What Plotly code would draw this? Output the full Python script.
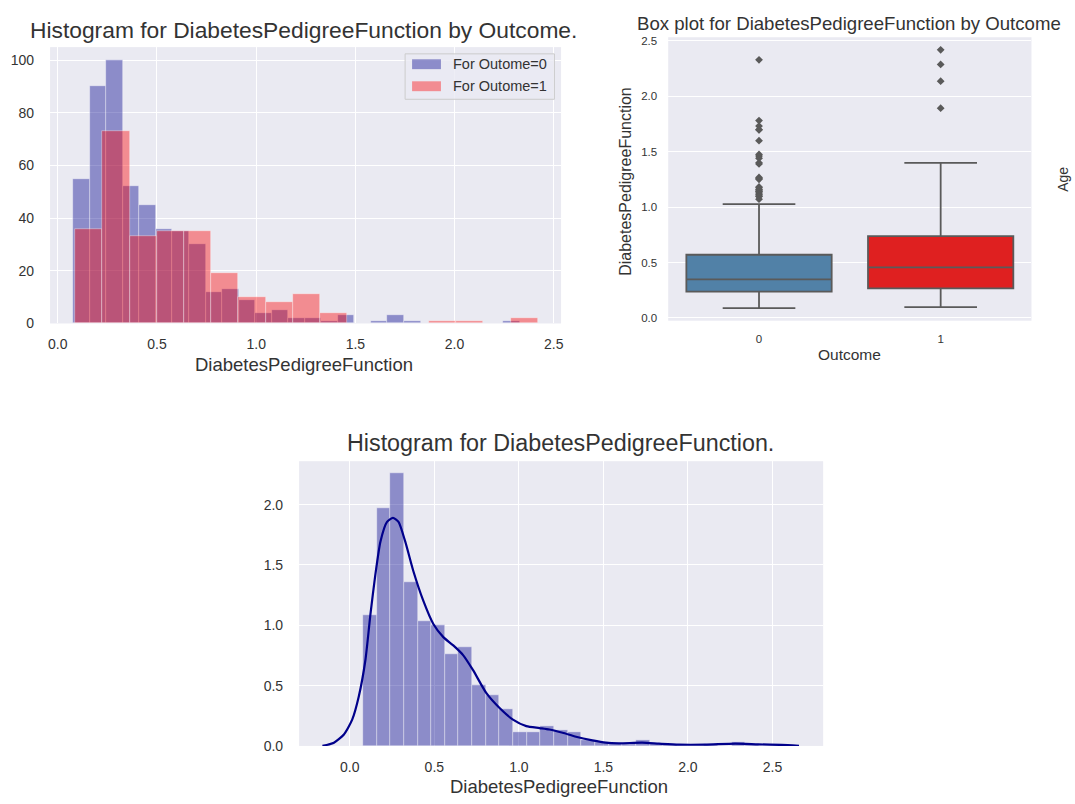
import numpy as np
import plotly.graph_objects as go

# ---------------- data ----------------
# Histogram by outcome (counts per bin)
outcome0_range = [0.078, 2.329]
outcome0_counts = [55, 90, 100, 52, 45, 36, 35, 30, 12, 13, 9, 4, 5, 2, 2, 1, 3, 0, 1, 3, 1, 0, 0, 0, 0, 0, 1]
outcome1_range = [0.088, 2.42]
outcome1_counts = [36, 73, 33, 35, 35, 19, 10, 8, 11, 4, 0, 0, 0, 1, 1, 0, 2]
legend_labels = ["For Outome=0", "For Outome=1"]

# Box plot statistics by outcome
box_categories = ["0", "1"]
box_q1 = [0.237, 0.267]
box_median = [0.347, 0.457]
box_q3 = [0.570, 0.739]
box_lower = [0.089, 0.098]
box_upper = [1.027, 1.400]
outliers_0 = [2.329, 1.781, 1.731, 1.699, 1.698, 1.600, 1.476, 1.461, 1.441, 1.400, 1.390,
              1.268, 1.258, 1.251, 1.182, 1.174, 1.159, 1.154, 1.144, 1.138, 1.127, 1.114,
              1.101, 1.096, 1.072]
outliers_1 = [2.420, 2.288, 2.137, 1.893]

# Overall histogram (counts) + KDE
all_range = [0.078, 2.42]
all_counts = [67, 122, 140, 84, 64, 62, 47, 51, 31, 26, 19, 7, 7, 10, 8, 7, 3, 2, 1, 1, 3, 1, 1,
              0, 0, 1, 0, 2, 1]
kde_x = [-0.162, -0.094, -0.035, 0.014, 0.053, 0.092, 0.122, 0.151, 0.181, 0.22, 0.255, 0.288,
         0.328, 0.376, 0.435, 0.494, 0.553, 0.612, 0.671, 0.729, 0.808, 0.886, 0.965, 1.044,
         1.122, 1.18, 1.259, 1.338, 1.435, 1.514, 1.592, 1.729, 1.828, 1.945, 2.102, 2.279,
         2.416, 2.553, 2.657]
kde_y = [0.0, 0.027, 0.095, 0.218, 0.41, 0.71, 1.093, 1.42, 1.693, 1.857, 1.89, 1.857, 1.693,
         1.448, 1.202, 1.011, 0.902, 0.833, 0.751, 0.628, 0.437, 0.314, 0.218, 0.164, 0.148,
         0.136, 0.109, 0.076, 0.046, 0.027, 0.022, 0.027, 0.019, 0.011, 0.011, 0.019, 0.013,
         0.008, 0.0]

# ---------------- helpers ----------------
W, H = 1075, 804
FONT = "Liberation Sans, Arial, sans-serif"
TXT = "#333333"
BG = "#EAEAF2"


def px(x):
    return x / W


def py(y):
    return 1 - y / H


def bins(rng, counts):
    edges = np.linspace(rng[0], rng[1], len(counts) + 1)
    centers = (edges[:-1] + edges[1:]) / 2
    size = edges[1] - edges[0]
    return centers, size


fig = go.Figure()

# ---- top-left: histogram by outcome ----
c0, s0 = bins(outcome0_range, outcome0_counts)
c1, s1 = bins(outcome1_range, outcome1_counts)
fig.add_trace(go.Histogram(x=c0, y=outcome0_counts, histfunc="sum",
                           xbins=dict(start=outcome0_range[0], end=outcome0_range[1], size=s0),
                           marker=dict(color="rgba(0,0,139,0.4)",
                                       line=dict(color="rgba(255,255,255,0.45)", width=0.8)),
                           name=legend_labels[0], showlegend=False, xaxis="x", yaxis="y"))
fig.add_trace(go.Histogram(x=c1, y=outcome1_counts, histfunc="sum",
                           xbins=dict(start=outcome1_range[0], end=outcome1_range[1], size=s1),
                           marker=dict(color="rgba(255,0,0,0.4)",
                                       line=dict(color="rgba(255,255,255,0.45)", width=0.8)),
                           name=legend_labels[1], showlegend=False, xaxis="x", yaxis="y"))

# ---- top-right: box plot ----
box_fill = ["rgb(81,129,167)", "rgb(223,32,32)"]
box_line = "#5a5a5a"
for i, cat in enumerate(box_categories):
    fig.add_trace(go.Box(x=[cat], q1=[box_q1[i]], median=[box_median[i]], q3=[box_q3[i]],
                         lowerfence=[box_lower[i]], upperfence=[box_upper[i]],
                         fillcolor=box_fill[i], line=dict(color=box_line, width=1.8),
                         width=0.8, whiskerwidth=0.5, boxpoints=False, showlegend=False,
                         xaxis="x2", yaxis="y2"))
for cat, pts in zip(box_categories, [outliers_0, outliers_1]):
    fig.add_trace(go.Scatter(x=[cat] * len(pts), y=pts, mode="markers",
                             marker=dict(symbol="diamond", size=6, color=box_line),
                             showlegend=False, xaxis="x2", yaxis="y2"))

# ---- bottom: overall histogram + KDE ----
ca, sa = bins(all_range, all_counts)
fig.add_trace(go.Histogram(x=ca, y=all_counts, histfunc="sum", histnorm="probability density",
                           xbins=dict(start=all_range[0], end=all_range[1], size=sa),
                           marker=dict(color="rgba(0,0,139,0.4)",
                                       line=dict(color="rgba(255,255,255,0.45)", width=0.8)),
                           showlegend=False, xaxis="x3", yaxis="y3"))
fig.add_trace(go.Scatter(x=kde_x, y=kde_y, mode="lines",
                         line=dict(color="#00008B", width=2.2, shape="spline", smoothing=0.6),
                         showlegend=False, xaxis="x3", yaxis="y3"))

# ---------------- axes ----------------
common = dict(showgrid=True, gridcolor="white", gridwidth=1, zeroline=False, showline=False,
              ticks="", tickfont=dict(family=FONT, color=TXT, size=14))

fig.update_layout(
    width=W, height=H, margin=dict(l=0, r=0, t=0, b=0),
    paper_bgcolor="white", plot_bgcolor=BG, barmode="overlay", bargap=0,
    font=dict(family=FONT, color=TXT),
    xaxis=dict(common, domain=[px(48.3), px(561.7)], range=[-0.039, 2.537], dtick=0.5, tick0=0,
               tickformat=".1f", anchor="y", ticklabelstandoff=11),
    yaxis=dict(common, domain=[py(325.5), py(45.7)], range=[0, 105], dtick=20, anchor="x",
               ticklabelstandoff=15),
    xaxis2=dict(common, domain=[px(669.3), px(1034.3)], type="category",
                categoryorder="array", categoryarray=box_categories, range=[-0.5, 1.5],
                showgrid=False, anchor="y2", ticklabelstandoff=10,
                tickfont=dict(family=FONT, color=TXT, size=11.5)),
    yaxis2=dict(common, domain=[py(322.7), py(35.7)], range=[-0.025, 2.533], dtick=0.5, tick0=0,
                tickformat=".1f", anchor="x2", ticklabelstandoff=10,
                tickfont=dict(family=FONT, color=TXT, size=11.5)),
    xaxis3=dict(common, domain=[px(298.5), px(825)], range=[-0.30, 2.80], dtick=0.5, tick0=0,
                tickformat=".1f", anchor="y3", ticklabelstandoff=11),
    yaxis3=dict(common, domain=[py(753.3), py(465)], range=[0, 2.36], dtick=0.5, tick0=0,
                tickformat=".1f", anchor="x3", ticklabelstandoff=15),
)


# ---------------- titles & labels ----------------
def note(text, x, y, size, angle=0):
    fig.add_annotation(text=text, x=px(x), y=py(y), xref="paper", yref="paper",
                       xanchor="center", yanchor="middle", showarrow=False, textangle=angle,
                       font=dict(family=FONT, color=TXT, size=size))


note("Histogram for DiabetesPedigreeFunction by Outcome.", 302.5, 28, 22.8)
note("DiabetesPedigreeFunction", 303.5, 367, 18.5)
note("Box plot for DiabetesPedigreeFunction by Outcome", 851, 22, 18.6)
note("Outcome", 851, 357, 15.5)
note("DiabetesPedigreeFunction", 627, 182, 16, angle=-90)
note("Age", 1066, 180, 14, angle=-90)
note("Histogram for DiabetesPedigreeFunction.", 561, 447, 23.3)
note("DiabetesPedigreeFunction", 560, 794, 18.5)

# ---------------- legend (top-left) ----------------
fig.add_shape(type="rect", xref="paper", yref="paper", x0=px(405), x1=px(555), y0=py(98.5),
              y1=py(52.5), fillcolor="rgba(234,234,242,0.8)", line=dict(color="#cccccc", width=1),
              layer="above")
for i, (lab, col) in enumerate(zip(legend_labels, ["rgba(0,0,139,0.4)", "rgba(255,0,0,0.4)"])):
    yc = 63 + 22.3 * i
    fig.add_shape(type="rect", xref="paper", yref="paper", x0=px(412), x1=px(441),
                  y0=py(yc + 5), y1=py(yc - 5), fillcolor=col, line=dict(width=0), layer="above")
    fig.add_annotation(text=lab, x=px(451), y=py(yc), xref="paper", yref="paper",
                       xanchor="left", yanchor="middle", showarrow=False,
                       font=dict(family=FONT, color=TXT, size=14.5))

fig.write_html("out.html")
